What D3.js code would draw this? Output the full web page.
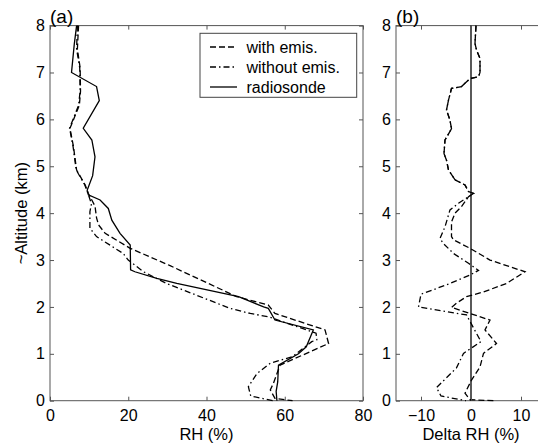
<!DOCTYPE html>
<html>
<head>
<meta charset="utf-8">
<script src="https://cdn.jsdelivr.net/npm/d3@7"></script>
<style>
  body { margin: 0; background: #fff; }
  text { font-family: "Liberation Sans", Arial, sans-serif; fill: #000; }
</style>
</head>
<body>
<div id="chart"></div>
<script>
// panel (a): RH profiles, [RH %, altitude km], top to bottom
const radiosonde = [[6.8,8.0],[6.2,7.6],[5.5,7.0],[11.9,6.7],[12.6,6.4],[8.5,5.81],[10.7,5.56],[11.5,5.2],[10.9,4.8],[9.5,4.49],[9.8,4.39],[12.8,4.28],[14.9,4.1],[15.8,3.85],[17.9,3.57],[20.5,3.32],[20.6,2.79],[21.7,2.75],[27.3,2.61],[32.4,2.5],[48.2,2.22],[54.6,2.0],[55.8,1.97],[57.5,1.72],[67.3,1.51],[65.5,1.15],[63.5,1.0],[58.4,0.76],[58.2,0.4],[57.8,0.2],[58,0]];
const withEmis = [[7.3,8.0],[7.0,7.5],[7.7,7.1],[7.8,6.6],[7.5,6.3],[5.1,5.81],[6.0,5.42],[6.8,4.92],[9.0,4.6],[9.8,4.42],[11.5,4.15],[11.9,3.9],[12.4,3.75],[14.1,3.57],[20.5,3.25],[30.7,2.88],[47.7,2.22],[55.8,2.04],[57.5,1.86],[70.3,1.51],[71.2,1.22],[64.5,0.97],[58.8,0.76],[57.1,0.37],[56.3,0.23],[57.5,0.05],[62,0]];
const withoutEmis = [[7.0,8.0],[6.8,7.5],[7.6,7.1],[7.7,6.6],[7.3,6.3],[5.0,5.81],[5.9,5.42],[6.7,4.92],[8.9,4.6],[9.7,4.42],[10.6,4.2],[10.2,4.03],[10.2,3.68],[11.9,3.5],[18.7,3.14],[20,3.0],[23.9,2.75],[29.8,2.5],[46,1.97],[51.2,1.86],[55.8,1.79],[68,1.44],[68.2,1.3],[66.9,1.26],[62,0.94],[56.3,0.8],[52.9,0.58],[50.7,0.3],[51.3,0.1],[57,0]];

// panel (b): model minus radiosonde, [delta RH %, altitude km]
const deltaWith = [[1.0,8.0],[0.8,7.62],[1.1,7.48],[1.8,7.3],[1.8,7.0],[1.5,6.91],[-0.2,6.87],[-1.9,6.7],[-3.9,6.66],[-4.5,6.41],[-4.9,6.2],[-4.2,5.98],[-3.9,5.8],[-5.2,5.56],[-5.4,5.27],[-4.9,5.13],[-4.5,4.92],[-3.2,4.71],[-1.2,4.6],[-0.5,4.46],[0.5,4.42],[-0.5,4.35],[-1.9,4.14],[-3.2,4.0],[-3.9,3.81],[-3.9,3.5],[-3.5,3.43],[-0.2,3.25],[3.8,3.0],[10.8,2.75],[7.1,2.5],[2.5,2.32],[-0.9,2.22],[-2.9,2.08],[-3.9,1.99],[3.8,1.72],[2.8,1.51],[5.1,1.22],[2.5,1.01],[1.8,0.72],[0.1,0.44],[-1.2,0.16],[-0.2,0.02],[5,0]];
const deltaWithout = [[1.0,8.0],[0.8,7.62],[1.1,7.48],[1.8,7.3],[1.8,7.0],[1.5,6.91],[-0.2,6.87],[-1.9,6.7],[-3.9,6.66],[-4.5,6.41],[-4.9,6.2],[-4.2,5.98],[-3.9,5.8],[-5.2,5.56],[-5.4,5.27],[-4.9,5.13],[-4.5,4.92],[-3.2,4.71],[-1.2,4.6],[-0.5,4.46],[0.5,4.42],[-0.5,4.35],[-2.5,4.21],[-4.2,4.07],[-5.2,3.71],[-6.2,3.46],[-5.5,3.35],[-3.5,3.14],[-0.5,2.93],[1.5,2.78],[-0.2,2.68],[-4.2,2.5],[-10.0,2.27],[-10.5,2.0],[-0.9,1.83],[-0.2,1.69],[2.0,1.26],[-1.5,1.01],[-2.9,0.7],[-6.9,0.28],[-6.0,0.1],[-1,0]];
const zeroLine = [[0,0],[0,8]];

const legendLabels = ["with emis.", "without emis.", "radiosonde"];
const altTicks = [0,1,2,3,4,5,6,7,8];
const rhTicks = [0,20,40,60,80];
const deltaTicks = [-10,0,10];

const W = 538, H = 446;
const yTop = 25.6, yBottom = 400.7;
const dash = "6,3", dashDot = "6,3,1.5,3";

const svg = d3.select("#chart").append("svg")
  .attr("width", W).attr("height", H);

const y = d3.scaleLinear().domain([0, 8]).range([yBottom, yTop]);
const xa = d3.scaleLinear().domain([0, 80]).range([50, 363]);
const xb = d3.scaleLinear().domain([-15, 15]).range([396, 546]);

function panel(x, xTicks, xTitle, tag, series) {
  const [x0, x1] = x.range();
  const g = svg.append("g");

  // frame
  g.append("rect")
    .attr("x", x0).attr("y", yTop)
    .attr("width", x1 - x0).attr("height", yBottom - yTop)
    .attr("fill", "none").attr("stroke", "#555").attr("stroke-width", 1);

  const line = d3.line().x(d => x(d[0])).y(d => y(d[1]));
  series.forEach(s => {
    g.append("path")
      .attr("d", line(s.data))
      .attr("fill", "none")
      .attr("stroke", "#000")
      .attr("stroke-width", 1.3)
      .attr("stroke-dasharray", s.dash);
  });

  const ax = (gen, tx, ty) => {
    const a = g.append("g").attr("transform", `translate(${tx},${ty})`).call(gen);
    a.select(".domain").remove();
    a.selectAll("line").attr("stroke", "#555");
    a.selectAll("text").attr("font-size", 16).attr("fill", "#000")
      .attr("font-family", "'Liberation Sans', Arial, sans-serif");
    return a;
  };
  ax(d3.axisBottom(x).tickValues(xTicks).tickSize(-4).tickPadding(9), 0, yBottom);
  ax(d3.axisTop(x).tickValues(xTicks).tickSize(-4).tickFormat(""), 0, yTop);
  ax(d3.axisLeft(y).tickValues(altTicks).tickSize(-4).tickPadding(5), x0, 0);
  ax(d3.axisRight(y).tickValues(altTicks).tickSize(-4).tickFormat(""), x1, 0);

  g.append("text")
    .attr("x", (x0 + Math.min(x1, W)) / 2 + (x1 > W ? 4 : 0))
    .attr("y", 440)
    .attr("text-anchor", "middle")
    .attr("font-size", 16.5)
    .text(xTitle);

  g.append("text")
    .attr("x", x0).attr("y", 22.5)
    .attr("font-size", 19)
    .text(tag);
}

panel(xa, rhTicks, "RH (%)", "(a)", [
  { data: withEmis, dash: dash },
  { data: withoutEmis, dash: dashDot },
  { data: radiosonde, dash: null }
]);

panel(xb, deltaTicks, "Delta RH (%)", "(b)", [
  { data: deltaWith, dash: dash },
  { data: deltaWithout, dash: dashDot },
  { data: zeroLine, dash: null }
]);

svg.append("text")
  .attr("transform", `translate(27,${(yTop + yBottom) / 2}) rotate(-90)`)
  .attr("text-anchor", "middle")
  .attr("font-size", 16.5)
  .text("~Altitude (km)");

// legend
const leg = svg.append("g");
leg.append("rect")
  .attr("x", 200).attr("y", 33.3).attr("width", 156.7).attr("height", 64)
  .attr("fill", "#fff").attr("stroke", "#444").attr("stroke-width", 1);
const legDash = [dash, dashDot, null];
legendLabels.forEach((lab, i) => {
  const ly = 47 + i * 20;
  leg.append("line")
    .attr("x1", 210).attr("x2", 237).attr("y1", ly).attr("y2", ly)
    .attr("stroke", "#000").attr("stroke-width", 1.3)
    .attr("stroke-dasharray", legDash[i]);
  leg.append("text")
    .attr("x", 246.5).attr("y", ly).attr("dy", "0.35em")
    .attr("font-size", 16)
    .text(lab);
});
</script>
</body>
</html>
